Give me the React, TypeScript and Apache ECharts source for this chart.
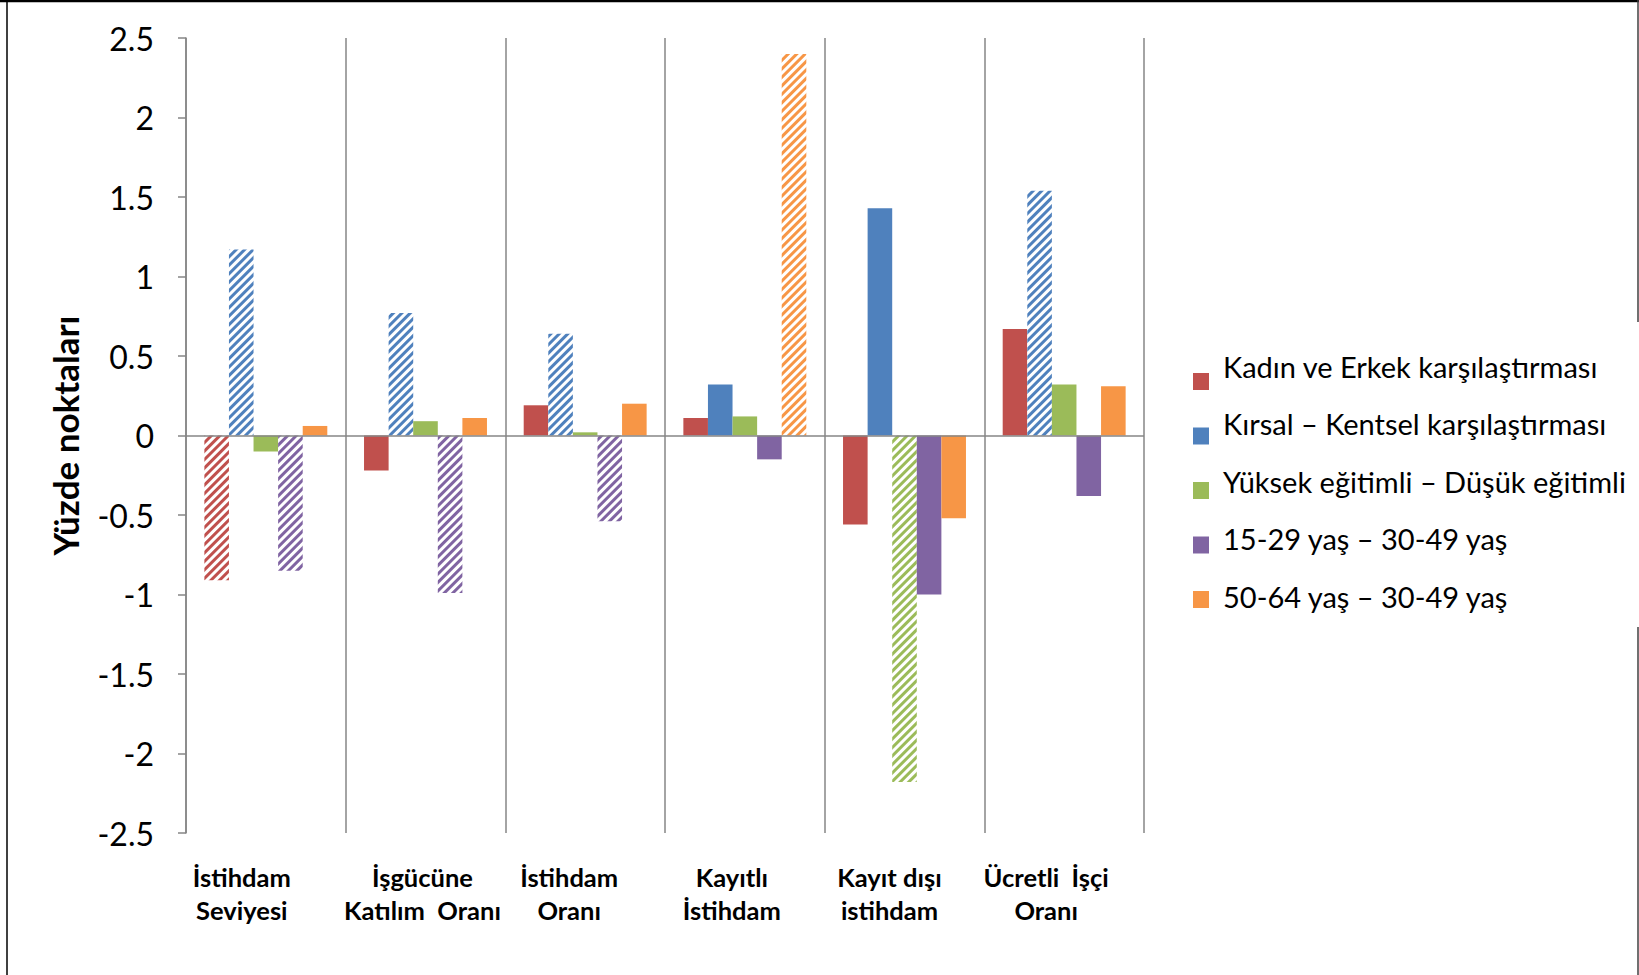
import React, { useEffect, useRef } from 'react';
import * as echarts from 'echarts';

// ---- Data ----
const categories = [
  'İstihdam\nSeviyesi',
  'İşgücüne\nKatılım  Oranı',
  'İstihdam\nOranı',
  'Kayıtlı\nİstihdam',
  'Kayıt dışı\nistihdam',
  'Ücretli  İşçi\nOranı',
];

const seriesNames = [
  'Kadın ve Erkek karşılaştırması',
  'Kırsal – Kentsel karşılaştırması',
  'Yüksek eğitimli – Düşük eğitimli',
  '15-29 yaş – 30-49 yaş',
  '50-64 yaş – 30-49 yaş',
];

const kadinErkek = [-0.91, -0.22, 0.19, 0.11, -0.56, 0.67];
const kirsalKentsel = [1.17, 0.77, 0.64, 0.32, 1.43, 1.54];
const egitim = [-0.1, 0.09, 0.02, 0.12, -2.18, 0.32];
const gencYas = [-0.85, -0.99, -0.54, -0.15, -1.0, -0.38];
const yasliYas = [0.06, 0.11, 0.2, 2.4, -0.52, 0.31];

// hatched (patterned) bars per series
const kadinErkekHatched = [true, false, false, false, false, false];
const kirsalKentselHatched = [true, true, true, false, false, true];
const egitimHatched = [false, false, false, false, true, false];
const gencYasHatched = [true, true, true, false, false, false];
const yasliYasHatched = [false, false, false, true, false, false];

const yTicks = { min: -2.5, max: 2.5, interval: 0.5 };

// ---- Styling ----
const colors = ['#C0504D', '#4F81BD', '#9BBB59', '#8064A2', '#F79646'];
const labelShiftLeft = [24, 3, 16, 13, 15, 18];
const FONT = 'Lato';

export default function App() {
  const ref = useRef<HTMLDivElement>(null);

  useEffect(() => {
    const chart = echarts.init(ref.current as HTMLDivElement, null, { renderer: 'svg' });
    const values = [kadinErkek, kirsalKentsel, egitim, gencYas, yasliYas];
    const hatched = [kadinErkekHatched, kirsalKentselHatched, egitimHatched, gencYasHatched, yasliYasHatched];

    const series = seriesNames.map((name, si) => ({
      name,
      type: 'bar',
      barGap: '0%',
      barCategoryGap: '23%',
      itemStyle: { color: colors[si] },
      data: values[si].map((v, i) =>
        hatched[si][i]
          ? {
              value: v,
              itemStyle: {
                color: '#ffffff',
                decal: {
                  symbol: 'rect',
                  symbolSize: 1,
                  color: colors[si],
                  dashArrayX: [1, 0],
                  dashArrayY: [3, 3],
                  rotation: -Math.PI / 4,
                },
              },
            }
          : v
      ),
      markLine:
        si === 0
          ? {
              silent: true,
              symbol: ['none', 'none'],
              label: { show: false },
              lineStyle: { color: '#868686', width: 1.5, type: 'solid' },
              data: [{ yAxis: 0 }],
            }
          : undefined,
    }));

    chart.setOption({
      animation: false,
      backgroundColor: '#ffffff',
      grid: { left: 186, top: 38, width: 958, height: 795, containLabel: false },
      legend: [
        {
          // colour markers
          orient: 'vertical',
          left: 1188,
          top: 368,
          itemGap: 37.5,
          itemWidth: 16,
          itemHeight: 17,
          icon: 'rect',
          selectedMode: false,
          formatter: () => '',
          textStyle: { fontSize: 1, lineHeight: 1 },
          data: seriesNames,
        },
        {
          // texts
          orient: 'vertical',
          left: 1188,
          top: 346,
          itemGap: 27.5,
          itemWidth: 16,
          itemHeight: 17,
          icon: 'none',
          selectedMode: false,
          textStyle: {
            fontFamily: FONT,
            fontSize: 29,
            color: '#000000',
            lineHeight: 30,
            padding: [0, 0, 0, 9],
          },
          data: seriesNames,
        },
      ],
      xAxis: {
        type: 'category',
        data: categories.map((c, i) => ({
          value: c,
          textStyle: { padding: [0, labelShiftLeft[i] * 2, 0, 0] },
        })),
        axisLine: { show: false, onZero: false },
        axisTick: { show: false },
        splitLine: { show: true, interval: 0, lineStyle: { color: '#868686', width: 1.5 } },
        axisLabel: {
          interval: 0,
          fontFamily: FONT,
          fontWeight: 'bold',
          fontSize: 25.5,
          lineHeight: 33,
          color: '#000000',
          margin: 27,
        },
      },
      yAxis: {
        type: 'value',
        min: yTicks.min,
        max: yTicks.max,
        interval: yTicks.interval,
        name: 'Yüzde noktaları',
        nameLocation: 'middle',
        nameGap: 104,
        nameRotate: 90,
        nameTextStyle: { fontFamily: FONT, fontWeight: 'bold', fontSize: 35, color: '#000000' },
        axisLine: { show: true, onZero: false, lineStyle: { color: '#868686', width: 1.5 } },
        axisTick: { show: true, length: 8, lineStyle: { color: '#868686', width: 1.5 } },
        axisLabel: { fontFamily: FONT, fontSize: 32, color: '#000000', margin: 32 },
        splitLine: { show: false },
      },
      graphic: [
        { type: 'line', shape: { x1: 0, y1: 1, x2: 1639, y2: 1 }, style: { stroke: '#000', lineWidth: 2.5 }, silent: true },
        { type: 'line', shape: { x1: 7, y1: 0, x2: 7, y2: 975 }, style: { stroke: '#000', lineWidth: 1.5 }, silent: true },
        { type: 'line', shape: { x1: 1638, y1: 0, x2: 1638, y2: 322 }, style: { stroke: '#404040', lineWidth: 1.5 }, silent: true },
        { type: 'line', shape: { x1: 1638, y1: 627, x2: 1638, y2: 975 }, style: { stroke: '#404040', lineWidth: 1.5 }, silent: true },
      ],
      series,
    });

    return () => chart.dispose();
  }, []);

  return (
    <div
      ref={ref}
      style={{ position: 'fixed', left: 0, top: 0, width: 1639, height: 975, background: '#ffffff' }}
    />
  );
}
